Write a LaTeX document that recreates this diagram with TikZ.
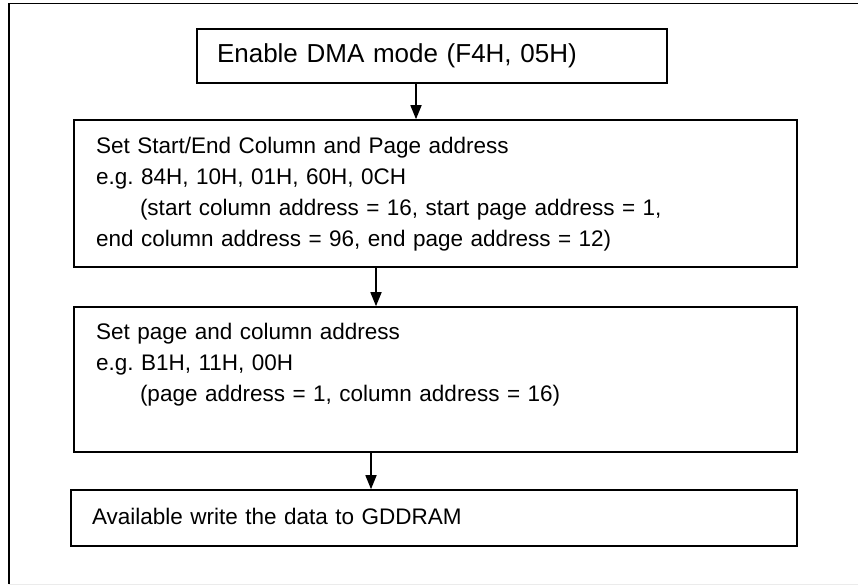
\documentclass[tikz,border=0pt]{standalone}
\usepackage{fontspec}
\setmainfont{Liberation Sans}
\usetikzlibrary{arrows.meta}

\tikzset{
  stepbox/.style={draw, line width=1.6pt, align=left, inner ysep=0pt,
    font=\fontsize{22.5}{31}\selectfont\frenchspacing,
    execute at begin node=\strut, execute at end node=\strut},
  flow/.style={line width=1.6pt, -{Triangle[width=11pt,length=14pt]}},
}

\begin{document}
\begin{tikzpicture}[x=1pt,y=-1pt]

  \useasboundingbox (0,0) rectangle (858,586);

  % frame (cut off at the right)
  \draw[black!8, line width=1pt] (9,584) -- (858,584);
  \draw[line width=1.6pt] (9,584) -- (9,3.5) -- (858,3.5);

  % steps
  \node[stepbox, font=\fontsize{26}{31}\selectfont, minimum width=470pt, minimum height=54pt,
    text width=430pt, inner xsep=20pt]
    (enable) at (432,56) {Enable DMA mode (F4H, 05H)};

  \node[stepbox, minimum width=723pt, minimum height=147pt, text width=679pt, inner xsep=22pt]
    (range) at (435.5,193.5) {Set Start/End Column and Page address\\
      e.g. 84H, 10H, 01H, 60H, 0CH\\
      \hspace*{44pt}(start column address = 16, start page address = 1,\\
      end column address = 96, end page address = 12)};

  \node[stepbox, minimum width=723pt, minimum height=145pt, text width=679pt, inner xsep=22pt]
    (pageaddr) at (435.5,379.5) {Set page and column address\\
      e.g. B1H, 11H, 00H\\
      \hspace*{44pt}(page address = 1, column address = 16)\\
      \mbox{}};

  \node[stepbox, minimum width=726pt, minimum height=56pt, text width=684pt, inner xsep=21pt]
    (write) at (434,518) {Available write the data to GDDRAM};

  % arrows
  \draw[flow] (enable.south -| 416,0) -- (range.north -| 416,0);
  \draw[flow] (range.south -| 376,0) -- (pageaddr.north -| 376,0);
  \draw[flow] (pageaddr.south -| 371,0) -- (write.north -| 371,0);

\end{tikzpicture}
\end{document}
